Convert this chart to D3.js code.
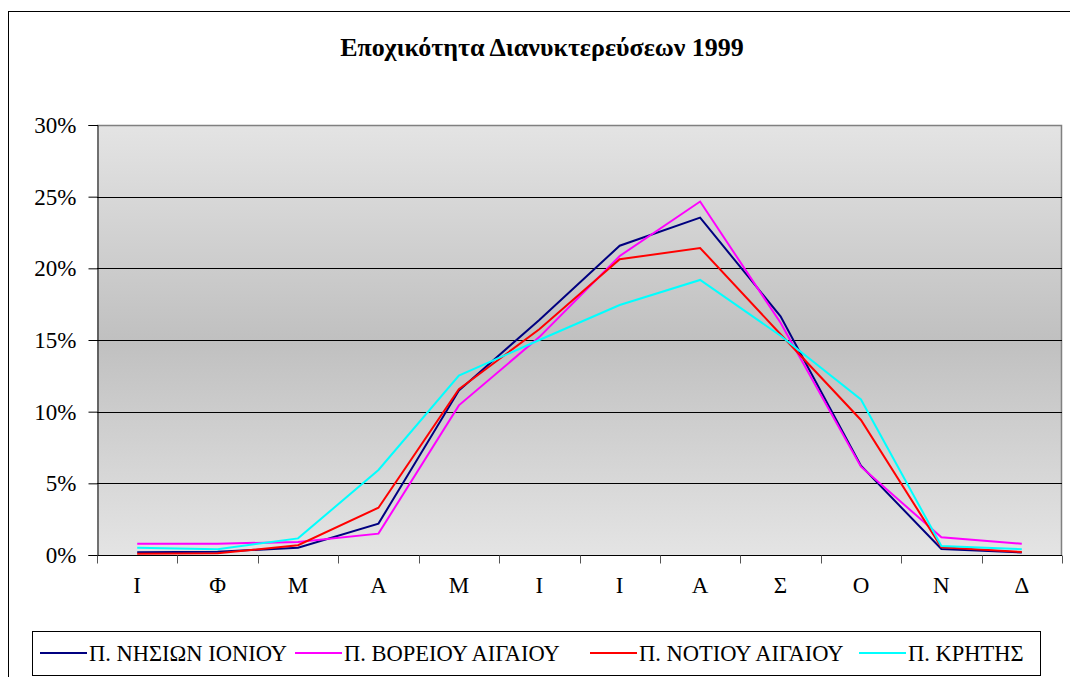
<!DOCTYPE html>
<html><head><meta charset="utf-8">
<script src="https://cdn.jsdelivr.net/npm/d3@7"></script>
<style>body{margin:0;background:#fff;} svg{display:block;}</style>
</head><body>
<svg id="c" width="1070" height="677"></svg>
<script>
const months = ["Ι","Φ","Μ","Α","Μ","Ι","Ι","Α","Σ","Ο","Ν","Δ"];
const seriesNames = ["Π. ΝΗΣΙΩΝ ΙΟΝΙΟΥ","Π. ΒΟΡΕΙΟΥ ΑΙΓΑΙΟΥ","Π. ΝΟΤΙΟΥ ΑΙΓΑΙΟΥ","Π. ΚΡΗΤΗΣ"];
const ionio  = [0.19,0.23,0.51,2.19,11.47,16.40,21.58,23.54,16.65,6.23,0.42,0.18];
const voreio = [0.79,0.79,0.91,1.49,10.44,15.20,20.86,24.66,16.20,6.16,1.23,0.79];
const notio  = [0.09,0.12,0.68,3.30,11.56,15.75,20.63,21.42,15.40,9.42,0.54,0.21];
const kriti  = [0.51,0.40,1.16,5.93,12.51,15.00,17.44,19.19,15.30,10.85,0.63,0.40];
const yTicks = [0,5,10,15,20,25,30];
const title = "Εποχικότητα Διανυκτερεύσεων 1999";
const colors = ["#000080","#ff00ff","#ff0000","#00ffff"];
const allSeries = [ionio, voreio, notio, kriti];

const svg = d3.select("#c");
const L=97, R=1062, T=125, B=555;
const font = '"Liberation Serif"';

svg.append("rect").attr("x",8.5).attr("y",11.5).attr("width",1070).attr("height",700)
  .attr("fill","none").attr("stroke","#000").attr("stroke-width",1);

const defs = svg.append("defs");
const g = defs.append("linearGradient").attr("id","bg").attr("x1",0).attr("y1",0).attr("x2",0).attr("y2",1);
g.append("stop").attr("offset","0%").attr("stop-color","#e4e4e4");
g.append("stop").attr("offset","50%").attr("stop-color","#c0c0c0");
g.append("stop").attr("offset","100%").attr("stop-color","#e4e4e4");

svg.append("text").attr("x",542).attr("y",56).attr("text-anchor","middle")
  .style("font-family",font).style("font-weight","bold").style("font-size","26px").text(title);

const x = d3.scaleBand().domain(d3.range(12)).range([L,R]);
const y = d3.scaleLinear().domain([0,30]).range([B,T]);

svg.append("rect").attr("x",L).attr("y",T).attr("width",R-L).attr("height",B-T).attr("fill","url(#bg)");
svg.append("path").attr("d",`M${L},${T+0.5}H${R-0.5}V${B}`).attr("fill","none").attr("stroke","#808080").attr("stroke-width",1.5);

svg.append("g").selectAll("line").data(yTicks.filter(t=>t>0 && t<30)).join("line")
  .attr("x1",L).attr("x2",R).attr("y1",d=>Math.round(y(d))+0.5).attr("y2",d=>Math.round(y(d))+0.5)
  .attr("stroke","#000").attr("stroke-width",1);

const ya = svg.append("g").attr("transform",`translate(${L+0.5},0)`)
  .call(d3.axisLeft(y).tickValues(yTicks).tickSize(9).tickPadding(12).tickFormat(d=>d+"%"));
ya.attr("font-family",null).attr("font-size",null);
ya.selectAll("text").style("font-family",font).style("font-size","23px").attr("fill","#000");
ya.selectAll("line").attr("stroke","#000");
ya.select(".domain").attr("stroke","#000");

const xa = svg.append("g").attr("transform",`translate(0,${B+0.5})`);
xa.append("line").attr("x1",L).attr("x2",R).attr("stroke","#000");
xa.selectAll("line.t").data(d3.range(13)).join("line").attr("class","t")
  .attr("x1",i=>Math.round(L+i*x.step())+0.5).attr("x2",i=>Math.round(L+i*x.step())+0.5)
  .attr("y1",0).attr("y2",8).attr("stroke","#555");
xa.selectAll("text").data(months).join("text")
  .attr("x",(d,i)=>x(i)+x.bandwidth()/2).attr("y",37).attr("text-anchor","middle")
  .style("font-family",font).style("font-size","23px").text(d=>d);

const line = d3.line().x((d,i)=>x(i)+x.bandwidth()/2).y(d=>y(d));
allSeries.forEach((s,k)=>{
  svg.append("path").datum(s).attr("d",line).attr("fill","none")
    .attr("stroke",colors[k]).attr("stroke-width",2).attr("stroke-linejoin","miter");
});

svg.append("rect").attr("x",32.5).attr("y",631.5).attr("width",1008).attr("height",44)
  .attr("fill","#fff").attr("stroke","#000").attr("stroke-width",1);
const lx = [40,295,590,859];
seriesNames.forEach((n,k)=>{
  svg.append("line").attr("x1",lx[k]).attr("x2",lx[k]+47).attr("y1",653).attr("y2",653)
    .attr("stroke",colors[k]).attr("stroke-width",2);
  svg.append("text").attr("x",lx[k]+49).attr("y",661).style("font-family",font)
    .style("font-size","22.5px").text(n);
});
</script>
</body></html>
